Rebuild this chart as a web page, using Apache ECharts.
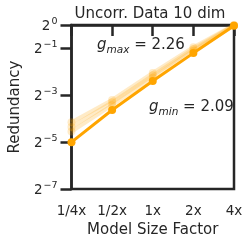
<!DOCTYPE html>
<html><head><meta charset="utf-8">
<script src="https://cdn.jsdelivr.net/npm/echarts@6/dist/echarts.min.js"></script>
<style>html,body{margin:0;padding:0;background:#fff}#c{width:250px;height:245px}</style>
</head><body><div id="c"></div>
<script>
const categories = ['1/4x', '1/2x', '1x', '2x', '4x'];
const yTickExps = [0, -1, -3, -5, -7];
// log2(Redundancy)
const mainSeries = [-5.0, -3.63, -2.39, -1.2, -0.03];
const light1 = [-4.15, -3.2, -2.05, -0.95, 0.0];
const light2 = [-4.35, -3.3, -2.15, -1.02, -0.01];
const light3 = [-4.55, -3.42, -2.25, -1.1, -0.02];
const titleText = 'Uncorr. Data 10 dim';
const gmax = '2.26', gmin = '2.09';

const ink = '#262626';
const font = 'DejaVu Sans';
const chart = echarts.init(document.getElementById('c'), null, {renderer: 'canvas'});
function lightSeries(d) {
  return {type: 'line', data: d, symbol: 'circle', symbolSize: 8, z: 2,
    lineStyle: {color: 'rgba(255,165,0,0.22)', width: 4},
    itemStyle: {color: 'rgba(255,165,0,0.22)'}};
}
function gText(x, y, sub, val) {
  return {type: 'text', x: x, y: y, style: {
    text: '{g|g}{sub|' + sub + '}{n| = ' + val + '}', verticalAlign: 'middle',
    rich: {g: {fontFamily: font, fontStyle: 'italic', fontSize: 15, fill: ink, verticalAlign: 'top'},
           sub: {fontFamily: font, fontStyle: 'italic', fontSize: 10.5, fill: ink, verticalAlign: 'top', padding: [7, 0, 0, 0]},
           n: {fontFamily: font, fontSize: 15, fill: ink, verticalAlign: 'top'}}}};
}
chart.setOption({
  animation: false,
  grid: {left: 66, right: 16, top: 25, bottom: 56, show: true, borderColor: ink, borderWidth: 2.5},
  xAxis: {type: 'category', data: categories, boundaryGap: false,
    name: 'Model Size Factor', nameLocation: 'middle', nameGap: 31,
    nameTextStyle: {fontFamily: font, fontSize: 15, color: ink},
    axisLine: {lineStyle: {color: ink, width: 2.5}},
    axisTick: {length: 11, lineStyle: {color: ink, width: 2.5}, alignWithLabel: true},
    axisLabel: {fontFamily: font, fontSize: 13.5, color: ink, margin: 15},
    splitLine: {show: false}},
  yAxis: {type: 'value', min: -7, max: 0, interval: 1,
    name: 'Redundancy', nameLocation: 'middle', nameGap: 43,
    nameTextStyle: {fontFamily: font, fontSize: 15, color: ink},
    axisLine: {show: true, lineStyle: {color: ink, width: 2.5}},
    axisTick: {show: true, length: 11, customValues: yTickExps, lineStyle: {color: ink, width: 2.5}},
    axisLabel: {fontFamily: font, fontSize: 13.5, color: ink, margin: 14, customValues: yTickExps,
      formatter: v => '{b|2}{s|' + (v === 0 ? '0' : '\u2212' + Math.abs(v)) + '}',
      rich: {b: {fontFamily: font, fontSize: 13.5, color: ink, verticalAlign: 'bottom'},
             s: {fontFamily: font, fontSize: 9.5, color: ink, verticalAlign: 'bottom', padding: [0, 0, 7, 1]}}},
    splitLine: {show: false}},
  graphic: [
    {type: 'text', x: 150, y: 14, style: {text: titleText, align: 'center', verticalAlign: 'middle', font: '15px "DejaVu Sans"', fill: ink}},
    gText(97, 47, 'max', gmax),
    gText(149, 109, 'min', gmin)
  ],
  series: [
    lightSeries(light1), lightSeries(light2), lightSeries(light3),
    {type: 'line', data: mainSeries, symbol: 'circle', symbolSize: 8, z: 3,
      lineStyle: {color: '#FFA500', width: 3}, itemStyle: {color: '#FFA500'}}
  ]
});
</script></body></html>
